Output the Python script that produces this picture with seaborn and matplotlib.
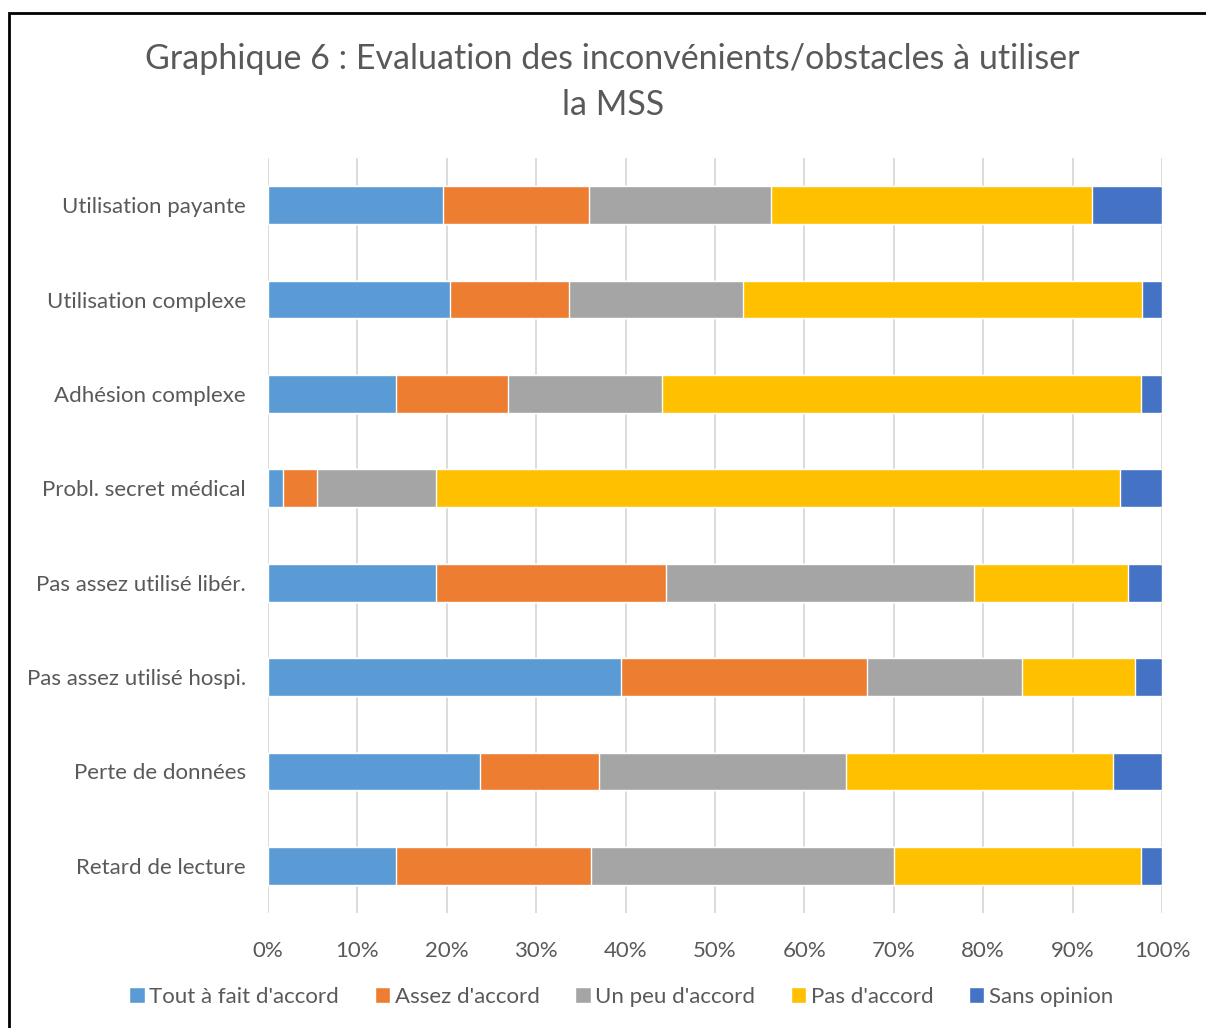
import matplotlib
matplotlib.use("Agg")
import matplotlib.pyplot as plt
import seaborn as sns
import pandas as pd
import numpy as np
from matplotlib.patches import Rectangle

categories = ["Utilisation payante", "Utilisation complexe", "Adhésion complexe",
              "Probl. secret médical", "Pas assez utilisé libér.", "Pas assez utilisé hospi.",
              "Perte de données", "Retard de lecture"]
series = ["Tout à fait d'accord", "Assez d'accord", "Un peu d'accord", "Pas d'accord", "Sans opinion"]
tout_fait = [19.6, 20.4, 14.3, 1.7, 18.8, 39.5, 23.7, 14.3]
assez = [16.3, 13.3, 12.5, 3.8, 25.7, 27.5, 13.3, 21.8]
un_peu = [20.4, 19.4, 17.3, 13.3, 34.5, 17.3, 27.7, 33.9]
pas = [35.9, 44.7, 53.6, 76.5, 17.2, 12.7, 29.8, 27.7]
sans = [7.8, 2.2, 2.3, 4.7, 3.8, 3.0, 5.5, 2.3]
colors = ["#5B9BD5", "#ED7D31", "#A5A5A5", "#FFC000", "#4472C4"]

df = pd.DataFrame({"cat": categories, series[0]: tout_fait, series[1]: assez,
                   series[2]: un_peu, series[3]: pas, series[4]: sans})
cum = df[series].cumsum(axis=1)

sns.set_style("white")
plt.rcParams["font.family"] = ["Lato", "DejaVu Sans"]
text_col = "#595959"

fig = plt.figure(figsize=(12.06, 10.28), dpi=100)
ax = fig.add_axes([268 / 1206, 1 - 913 / 1028, (1162 - 268) / 1206, (913 - 158) / 1028])

# draw cumulative totals from the largest down so each segment shows
for s, c in reversed(list(zip(series, colors))):
    sns.barplot(x=cum[s], y=df["cat"], color=c, orient="h", width=0.4,
                saturation=1, ax=ax, label=s, zorder=3)

ax.set_xlim(0, 100)
ax.set_xticks(np.arange(0, 101, 10))
ax.set_xticklabels([f"{v}%" for v in range(0, 101, 10)])
ax.grid(axis="x", color="#D9D9D9", linewidth=1.3, zorder=0)
ax.set_axisbelow(True)
for sp in ax.spines.values():
    sp.set_visible(False)
ax.set_xlabel("")
ax.set_ylabel("")
ax.tick_params(axis="both", length=0, labelsize=16, colors=text_col)
ax.tick_params(axis="x", pad=20)
ax.tick_params(axis="y", pad=16)

handles, labels = ax.get_legend_handles_labels()
order = [labels.index(s) for s in series]
fig.legend([handles[i] for i in order], series, loc="center", ncol=5,
           bbox_to_anchor=(0.515, 1 - 997 / 1028), frameon=False, fontsize=16,
           labelcolor=text_col, handlelength=0.7, handleheight=0.7,
           handletextpad=0.2, columnspacing=1.6)
if ax.get_legend():
    ax.get_legend().remove()

fig.text(0.508, 1 - 82 / 1028, "Graphique 6 : Evaluation des inconvénients/obstacles à utiliser\nla MSS",
         ha="center", va="center", fontsize=24.5, color=text_col, linespacing=1.55)

fig.patches.append(Rectangle((9 / 1206, -0.01), 1.05, 1 - 13 / 1028 + 0.01,
                             transform=fig.transFigure, fill=False,
                             edgecolor="black", linewidth=2))

fig.savefig("out.png", dpi=100)
